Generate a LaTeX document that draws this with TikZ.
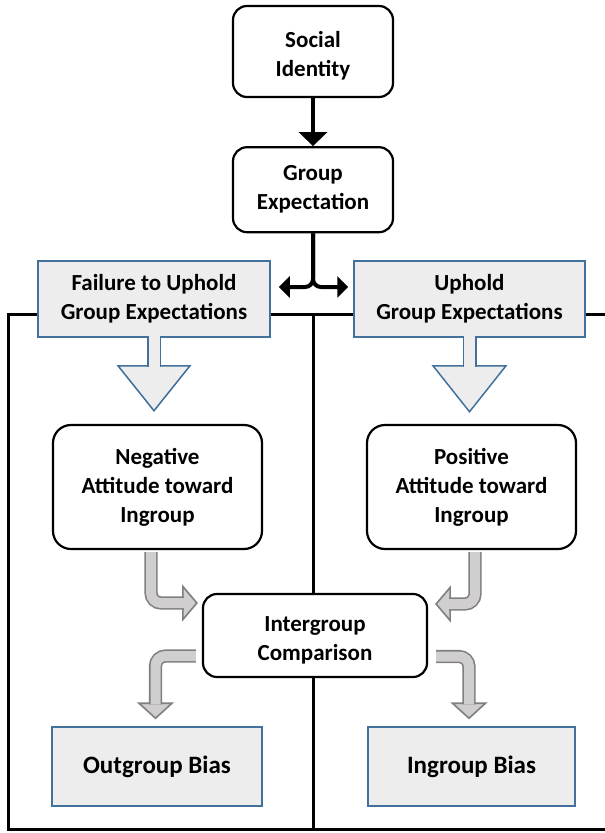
\documentclass[tikz,border=0pt]{standalone}
\usepackage{fontspec}
\setmainfont{Carlito}
\usetikzlibrary{positioning,calc,arrows.meta}
\definecolor{boxfill}{HTML}{EDEDED}
\definecolor{boxline}{HTML}{41719C}
\definecolor{bendfill}{HTML}{D0CECE}
\definecolor{bendline}{HTML}{7F7F7F}

\begin{document}
\begin{tikzpicture}[x=1bp,y=-1bp,
  font=\fontsize{23bp}{29bp}\selectfont\bfseries,
  rbox/.style={draw,line width=2.2bp,rounded corners=14bp,fill=white,align=center,inner sep=0pt},
  gbox/.style={draw=boxline,line width=1.5bp,fill=boxfill,align=center,inner sep=0pt},
  panel/.style={line width=3bp},
  flowline/.style={line width=4bp},
  blockstem/.style={draw=boxline,double=boxfill,double distance=11bp,line width=1.5bp},
  blockhead/.style={draw=boxline,fill=boxfill,line width=1.5bp},
  bendstem/.style={draw=bendline,double=bendfill,double distance=10bp,line width=1.6bp,rounded corners=10bp},
  bendhead/.style={draw=bendline,fill=bendfill,line width=1.6bp}]
  \useasboundingbox (0,0) rectangle (605,833);

  % two panels behind everything
  \draw[panel] (605,314) -| (8,829) -- (605,829);
  \draw[panel] (313,314) -- (313,829);

  \node[rbox,text height=53bp,minimum width=160bp,minimum height=91bp] (soc) at (313,51.5) {Social\\Identity};
  \node[rbox,minimum width=160bp,minimum height=85bp,below=48bp of soc] (grp) {Group\\Expectation};
  \node[gbox,minimum width=232bp,minimum height=76bp] (fail) at (154,299) {Failure to Uphold\\Group Expectations};
  \node[gbox,minimum width=231bp,minimum height=76bp] (uph) at (469.5,299) {Uphold\\Group Expectations};
  \node[rbox,rounded corners=18bp,minimum width=209bp,minimum height=124bp] (neg) at (157.5,487) {Negative\\Attitude toward\\Ingroup};
  \node[rbox,rounded corners=18bp,minimum width=209bp,minimum height=124bp] (pos) at (471.5,487) {Positive\\Attitude toward\\Ingroup};
  \node[rbox,text height=53bp,minimum width=224bp,minimum height=83bp] (cmp) at (315,635.5) {Intergroup\\Comparison};
  \node[gbox,font=\fontsize{25bp}{30bp}\selectfont\bfseries,minimum width=210bp,minimum height=79bp] (outb) at (157,766.5) {Outgroup Bias};
  \node[gbox,font=\fontsize{25bp}{30bp}\selectfont\bfseries,minimum width=207bp,minimum height=79bp] (inb) at (471.5,766.5) {Ingroup Bias};

  \draw[flowline,-{Triangle[length=14bp,width=28bp]}] (soc) -- (grp);
  \draw[flowline,rounded corners=8bp,-{Triangle[length=11bp,width=21bp]}] (grp.south) |- ([xshift=8bp,yshift=12bp]fail.east);
  \draw[flowline,rounded corners=8bp,-{Triangle[length=11bp,width=21bp]}] (grp.south) |- ([xshift=-5bp,yshift=12bp]uph.west);

  % block arrows into the attitude boxes
  \filldraw[blockhead] ($(fail.south)+(-36,28)$) -- ($(fail.south)+(0,73)$) -- ($(fail.south)+(36,28)$) -- cycle;
  \draw[blockstem] ([yshift=1.5bp]fail.south) -- ($(fail.south)+(0,29)$);
  \filldraw[blockhead] ($(uph.south)+(-36.5,28)$) -- ($(uph.south)+(0,74)$) -- ($(uph.south)+(36.5,28)$) -- cycle;
  \draw[blockstem] ([yshift=1.5bp]uph.south) -- ($(uph.south)+(0,29)$);

  % bent arrows in and out of the comparison
  \filldraw[bendhead] ($(cmp.west)+(-19,-49)$) -- ($(cmp.west)+(-5,-32.5)$) -- ($(cmp.west)+(-19,-16)$) -- cycle;
  \draw[bendstem] ([xshift=-6.5bp,yshift=-2bp]neg.south) |- ($(cmp.west)+(-18,-32.5)$);
  \filldraw[bendhead] ($(cmp.east)+(22,-48)$) -- ($(cmp.east)+(8,-31.5)$) -- ($(cmp.east)+(22,-15)$) -- cycle;
  \draw[bendstem] ([xshift=3.5bp,yshift=-2bp]pos.south) |- ($(cmp.east)+(21,-31.5)$);
  \filldraw[bendhead] ($(outb.north)+(-18,-23)$) -- ($(outb.north)+(-1.5,-8)$) -- ($(outb.north)+(15,-23)$) -- cycle;
  \draw[bendstem] ($(cmp.west)+(-6,20.5)$) -| ($(outb.north)+(-1.5,-22)$);
  \filldraw[bendhead] ($(inb.north)+(-19,-23)$) -- ($(inb.north)+(-2.5,-8)$) -- ($(inb.north)+(14,-23)$) -- cycle;
  \draw[bendstem] ($(cmp.east)+(8,21)$) -| ($(inb.north)+(-2.5,-22)$);
\end{tikzpicture}
\end{document}
